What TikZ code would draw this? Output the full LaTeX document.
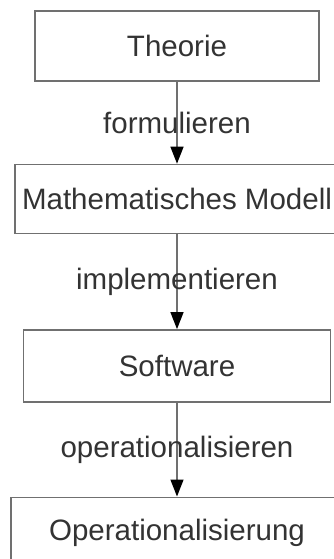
\documentclass[tikz,border=0pt]{standalone}
\usepackage{fontspec}
\setmainfont{Liberation Sans}
\usepackage{xcolor}
\usepackage{tikz}
\usetikzlibrary{arrows.meta}
\usetikzlibrary{positioning}
\definecolor{linegray}{RGB}{112,112,112}
\definecolor{textgray}{RGB}{51,51,51}
\begin{document}
\begin{tikzpicture}[->,>={Triangle[width=13pt,length=17pt,color=black]},node distance=82pt,line width=1.4pt,draw=linegray]
 \tikzstyle{box}=[rectangle, draw=linegray, fill=white, text=textgray, inner sep=0pt, minimum height=70pt, font=\fontsize{29.5}{35}\selectfont]
 \tikzstyle{lbl}=[text=textgray, font=\fontsize{29.5}{35}\selectfont]
 \useasboundingbox (0,0) rectangle (334pt,-559pt);
  \node[box, minimum width=284pt] (theorie) at (177pt,-46pt) {Theorie};
  \node[box, minimum width=324pt, minimum height=69pt] (modell) [below=82pt of theorie] {Mathematisches Modell};
  \node[box, minimum width=307pt, minimum height=72pt] (software) [below=95pt of modell] {Software};
  \node[box, minimum width=332pt, minimum height=72pt] (opera) [below=94pt of software] {Operationalisierung};

  \path[draw=linegray]
      (theorie) edge node[lbl] {formulieren} (modell)
      (modell) edge node[lbl] {implementieren} (software)
      (software) edge node[lbl] {operationalisieren} (opera);
\end{tikzpicture}
\end{document}
